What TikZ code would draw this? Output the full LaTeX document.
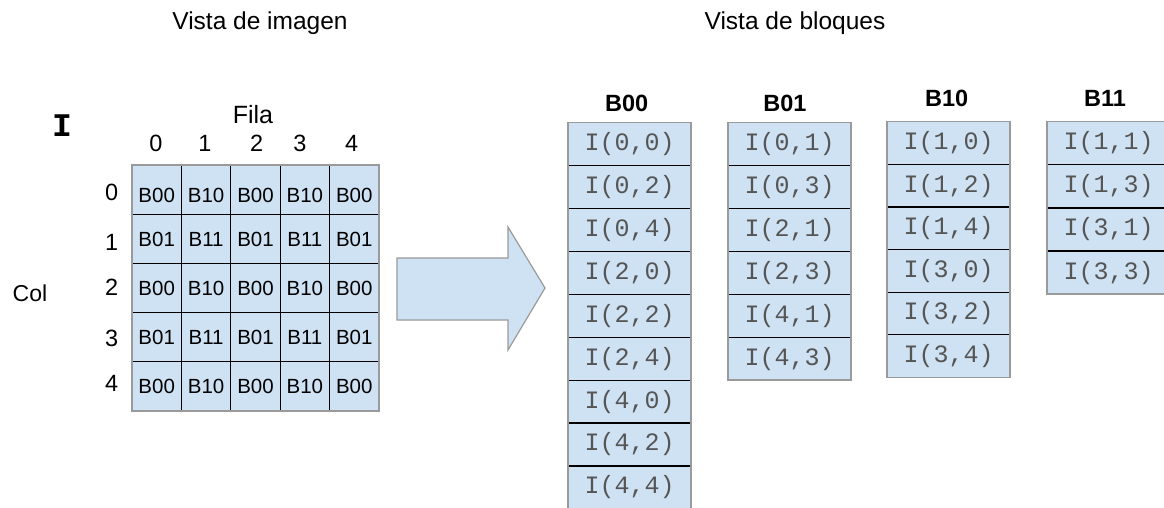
\documentclass[tikz,border=0pt]{standalone}
\usepackage{fontspec}
\setmainfont{Liberation Sans}
\newfontfamily\monofam{Liberation Mono}
\definecolor{cellblue}{HTML}{CFE2F3}
\definecolor{edgegray}{HTML}{9A9A9A}
\definecolor{codegray}{HTML}{555555}
\begin{document}
\begin{tikzpicture}[x=1pt,y=-1pt,
  gridcell/.style={draw=black, fill=cellblue, line width=1.2pt, minimum width=49.4pt, minimum height=49.2pt,
    inner sep=0pt, outer sep=0pt, font=\fontsize{20.5}{21}\selectfont, text depth=0pt},
  blockcell/.style={draw=black, fill=cellblue, line width=1.2pt, minimum width=123pt,
    inner sep=0pt, outer sep=0pt, font=\monofam\fontsize{25}{25}\selectfont, text=codegray},
  outline/.style={draw=edgegray, line width=1.4pt},
  title/.style={anchor=base, font=\fontsize{24.5}{26}\selectfont},
  numlab/.style={anchor=base, font=\fontsize{23.5}{24}\selectfont},
  blockhead/.style={anchor=base, font=\bfseries\fontsize{23.5}{24}\selectfont}
]
\useasboundingbox (0,0) rectangle (1164,508);

% titles
\node[title] (t1) at (260,29.5) {Vista de imagen};
\node[title] (t2) at (795,29.5) {Vista de bloques};

% image view
\node[font=\monofam\bfseries\fontsize{33}{33}\selectfont] (imgI) at (62,126) {I};
\node[anchor=base, font=\fontsize{25}{26}\selectfont] (fila) at (253,123.3) {Fila};
\node[anchor=base, font=\fontsize{23}{24}\selectfont] (col) at (30,301.5) {Col};

\foreach \c/\x in {0/156,1/205,2/256.7,3/300,4/351.7}
  \node[numlab] (cn\c) at (\x,151.7) {\c};
\foreach \r/\y in {0/200,1/250,2/295,3/346.7,4/391.7}
  \node[numlab] (rn\r) at (111.7,\y) {\r};

\foreach \r in {0,...,4}
  \foreach \c in {0,...,4} {
    \pgfmathtruncatemacro\a{mod(\c,2)}
    \pgfmathtruncatemacro\b{mod(\r,2)}
    \pgfmathsetmacro\th{\r==0 ? 25 : 15}
    \node[gridcell, text height=\th pt] (g\r\c) at ({156.7+49.4*\c},{189.6+49.2*\r}) {B\a\b};
  }
\draw[outline] (g00.north west) rectangle (g44.south east);

% big arrow
\filldraw[fill=cellblue, draw=edgegray, line width=1.2pt, line join=miter]
  (397,258) -- (508,258) -- (508,227) -- (545,288) -- (508,350) -- (508,320) -- (397,320) -- cycle;

% block view
\node[blockhead] (h00) at (626.7,111.7) {B00};
\node[blockhead] (h01) at (785,111.7) {B01};
\node[blockhead] (h10) at (946.7,106.7) {B10};
\node[blockhead] (h11) at (1105,106.7) {B11};

\foreach \p/\q [count=\k from 0] in {0/0,0/2,0/4,2/0,2/2,2/4,4/0,4/2,4/4}
  \node[blockcell, minimum height=42.9pt] (a\k) at (629.5,{144.15+42.9*\k}) {I(\p,\q)};
\draw[outline] (a0.north west) rectangle (a8.south east);

\foreach \p/\q [count=\k from 0] in {0/1,0/3,2/1,2/3,4/1,4/3}
  \node[blockcell, minimum height=42.9pt] (b\k) at (789.5,{144.15+42.9*\k}) {I(\p,\q)};
\draw[outline] (b0.north west) rectangle (b5.south east);

\foreach \p/\q [count=\k from 0] in {1/0,1/2,1/4,3/0,3/2,3/4}
  \node[blockcell, minimum height=42.6pt] (c\k) at (948.5,{143+42.6*\k}) {I(\p,\q)};
\draw[outline] (c0.north west) rectangle (c5.south east);

\foreach \p/\q [count=\k from 0] in {1/1,1/3,3/1,3/3}
  \node[blockcell, minimum height=43.1pt] (d\k) at (1108.5,{143.25+43.1*\k}) {I(\p,\q)};
\draw[outline] (d0.north west) rectangle (d3.south east);
\end{tikzpicture}
\end{document}
